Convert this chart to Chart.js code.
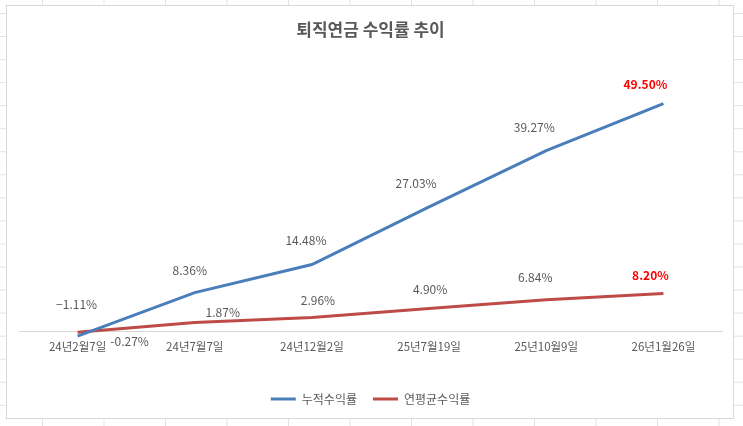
<!DOCTYPE html>
<html>
<head>
<meta charset="utf-8">
<script src="https://cdn.jsdelivr.net/npm/chart.js@4"></script>
<style>
  html, body { margin: 0; padding: 0; }
  body {
    width: 743px; height: 426px; overflow: hidden; position: relative;
    background-color: #ffffff;
    background-image:
      linear-gradient(to right, #e2e2e2 1px, transparent 1px),
      linear-gradient(to bottom, #e2e2e2 1px, transparent 1px);
    background-size: 61.5px 23.05px;
    background-position: 42px 13px;
  }
  #box {
    position: absolute; left: 6px; top: 5px; width: 726px; height: 412px;
    background: #ffffff; border: 1px solid #d9d9d9;
  }
</style>
</head>
<body>
<div id="box"><canvas id="c"></canvas></div>
<script>
const categories = ['24년2월7일', '24년7월7일', '24년12월2일', '25년7월19일', '25년10월9일', '26년1월26일'];
const cumulativeReturn = [-1.11, 8.36, 14.48, 27.03, 39.27, 49.50];
const annualReturn = [-0.27, 1.87, 2.96, 4.90, 6.84, 8.20];
const seriesNames = ['누적수익률', '연평균수익률'];
const chartTitle = '퇴직연금 수익률 추이';

const FONT = "'Noto Sans CJK KR', 'Noto Sans', sans-serif";
Chart.defaults.font.family = FONT;
Chart.defaults.color = '#595959';

// label offsets (pixels) relative to each point, per dataset
const labelOffsets = [
  [[-1, -32], [-5, -22], [-6, -24], [-13, -23], [-12, -23], [-18, -19]],
  [[52, 9], [28, -10], [6, -17], [1, -19], [-11, -22], [-13, -18]]
];

const fmt = v => (v < 0 ? '\u2212' + Math.abs(v).toFixed(2) : v.toFixed(2)) + '%';

const dataLabels = {
  id: 'dataLabels',
  afterDatasetsDraw(chart) {
    const ctx = chart.ctx;
    ctx.save();
    ctx.textAlign = 'center';
    ctx.textBaseline = 'middle';
    chart.data.datasets.forEach((ds, di) => {
      const meta = chart.getDatasetMeta(di);
      meta.data.forEach((pt, i) => {
        const last = i === ds.data.length - 1;
        ctx.font = (last ? 'bold ' : '') + '12px ' + FONT;
        ctx.fillStyle = last ? '#ff0000' : '#595959';
        const off = labelOffsets[di][i];
        const v = ds.data[i];
        const txt = (di === 0 && v < 0) ? fmt(v) : v.toFixed(2) + '%';
        ctx.fillText(txt, pt.x + off[0], pt.y + off[1]);
      });
    });
    ctx.restore();
  }
};

new Chart(document.getElementById('c'), {
  type: 'line',
  data: {
    labels: categories,
    datasets: [
      { label: seriesNames[0], data: cumulativeReturn, borderColor: '#4a7ebb', backgroundColor: '#4a7ebb',
        borderWidth: 3, pointRadius: 0, tension: 0, pointStyle: 'line' },
      { label: seriesNames[1], data: annualReturn, borderColor: '#be4b48', backgroundColor: '#be4b48',
        borderWidth: 3, pointRadius: 0, tension: 0, pointStyle: 'line' }
    ]
  },
  options: {
    responsive: true,
    maintainAspectRatio: false,
    animation: false,
    layout: { padding: { left: 12, right: 11, top: 0, bottom: 3 } },
    plugins: {
      title: {
        display: true, text: chartTitle, color: '#595959',
        font: { size: 17, weight: 'bold' }, padding: { top: 13, bottom: 16 }
      },
      legend: {
        position: 'bottom',
        labels: {
          usePointStyle: true, pointStyleWidth: 25, color: '#595959',
          font: { size: 12 }, padding: 16
        }
      },
      tooltip: { enabled: false }
    },
    scales: {
      x: {
        type: 'category',
        position: { y: 0 },
        offset: true,
        grid: { display: false, drawTicks: false },
        border: { display: true, color: '#d9d9d9', width: 1 },
        ticks: { color: '#595959', font: { size: 11.5 }, padding: 9, maxRotation: 0, autoSkip: false }
      },
      y: {
        display: false,
        min: -10, max: 60
      }
    }
  },
  plugins: [dataLabels]
});
</script>
</body>
</html>
